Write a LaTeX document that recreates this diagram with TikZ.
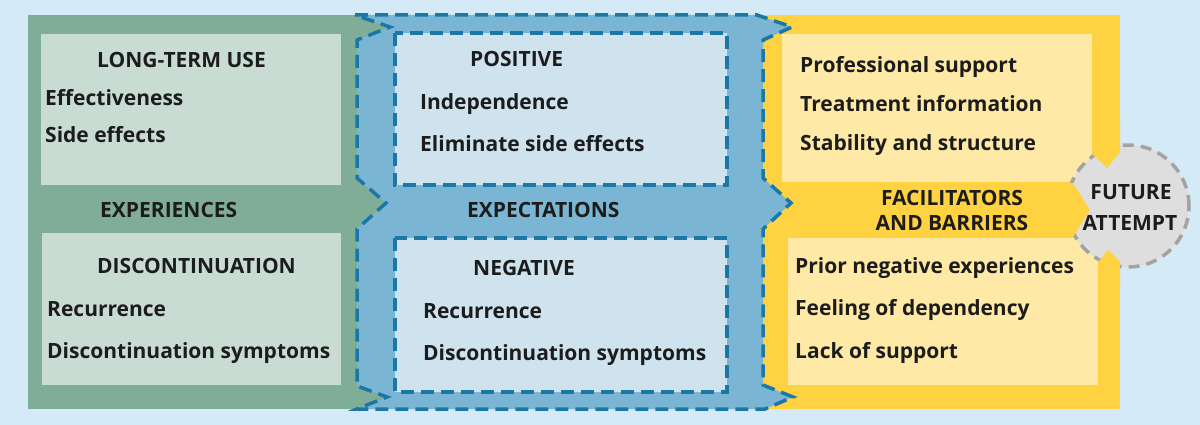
\documentclass[tikz,border=0pt]{standalone}
\usepackage{fontspec}
\setmainfont{Open Sans}
\definecolor{bg}{HTML}{D4EAF7}
\definecolor{gdark}{HTML}{7FAD97}
\definecolor{glight}{HTML}{C9DCD4}
\definecolor{bmid}{HTML}{7AB6D4}
\definecolor{blight}{HTML}{CFE3EE}
\definecolor{bdashc}{HTML}{1A77A6}
\definecolor{ydark}{HTML}{FED240}
\definecolor{ylight}{HTML}{FFE9A6}
\definecolor{cfill}{HTML}{DEDEDE}
\definecolor{cline}{HTML}{A3A3A3}
\definecolor{ink}{HTML}{1C1C1C}
\begin{document}
\begin{tikzpicture}[x=1pt,y=-1pt,
  txt/.style={anchor=base west, font=\bfseries\fontsize{21}{25}\selectfont, text=ink, inner sep=0pt},
  ctxt/.style={anchor=base, font=\bfseries\fontsize{21}{25}\selectfont, text=ink, inner sep=0pt},
  bdash/.style={draw=bdashc, line width=3.5pt, dash pattern=on 13pt off 7pt},
  cdash/.style={draw=cline, line width=3.5pt, dash pattern=on 11pt off 7pt}]
\useasboundingbox (0,0) rectangle (1200,425);
\fill[bg] (0,0) rectangle (1200,425);
% green and yellow panels
\fill[gdark] (28,15) rectangle (395,409);
\fill[ydark] (760,15) rectangle (1120,409);
\fill[glight] (41,34) rectangle (341,185);
\fill[glight] (42,233) rectangle (341,385);
\fill[ylight] (782,34) rectangle (1092,182);
\fill[ylight] (788,238) rectangle (1098,385);
% circle
\node[circle, minimum size=122pt, fill=cfill, cdash, inner sep=0pt] (circ) at (1128,206) {};
% yellow arrows into the circle
\fill[ydark] (1092,120) -- (1120,120) -- (1120,152) -- (1107,168) -- (1093,155) -- cycle;
\fill[ydark] (1040,183) -- (1073,183) -- (1090,210) -- (1073,237) -- (1040,237) -- cycle;
\fill[ydark] (1098,290) -- (1098,262) -- (1108,250) -- (1120,262) -- (1120,290) -- cycle;
% blue panel
\filldraw[fill=bmid, bdash, line join=miter]
  (355,15) -- (757,15) -- (792,27) -- (763,40) -- (763,178) -- (791,203) -- (763,229)
  -- (763,385) -- (793,397) -- (765,409) -- (357,409) -- (387,397) -- (357,386)
  -- (357,229) -- (386,203) -- (357,178) -- (357,40) -- (390,27) -- cycle;
\filldraw[fill=blight, bdash] (395,33) rectangle (727,185);
\filldraw[fill=blight, bdash] (395,238) rectangle (727,392);
% green texts
\node[txt] (g1) at (97,68) {LONG-TERM USE};
\node[txt] (g2) at (45,106) {Effectiveness};
\node[txt] (g3) at (45,143) {Side effects};
\node[txt] (g4) at (100,218) {EXPERIENCES};
\node[txt] (g5) at (97,273) {DISCONTINUATION};
\node[txt] (g6) at (47,316) {Recurrence};
\node[txt] (g7) at (47,358) {Discontinuation symptoms};
% blue texts
\node[txt] (b1) at (470,67) {POSITIVE};
\node[txt] (b2) at (420,110) {Independence};
\node[txt] (b3) at (420,152) {Eliminate side effects};
\node[txt] (b4) at (467,218) {EXPECTATIONS};
\node[txt] (b5) at (473,275) {NEGATIVE};
\node[txt] (b6) at (423,318) {Recurrence};
\node[txt] (b7) at (423,360) {Discontinuation symptoms};
% yellow texts
\node[txt] (y1) at (800,73) {Professional support};
\node[txt] (y2) at (800,112) {Treatment information};
\node[txt] (y3) at (800,151) {Stability and structure};
\node[ctxt] (y4) at (952,205) {FACILITATORS};
\node[ctxt] (y5) at (952,230) {AND BARRIERS};
\node[txt] (y6) at (795,273) {Prior negative experiences};
\node[txt] (y7) at (795,315) {Feeling of dependency};
\node[txt] (y8) at (795,358) {Lack of support};
% circle text
\node[ctxt] (c1) at (1131,200) {FUTURE};
\node[ctxt] (c2) at (1130,230) {ATTEMPT};
\end{tikzpicture}
\end{document}
